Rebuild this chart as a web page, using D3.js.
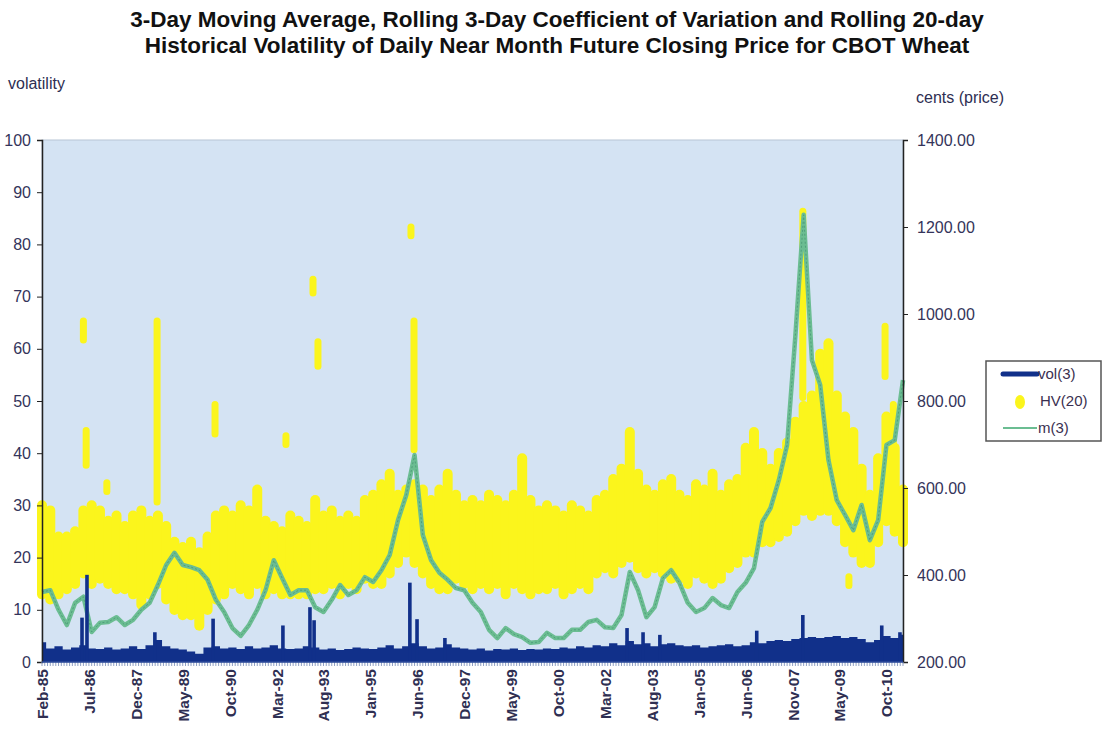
<!DOCTYPE HTML>
<html>
  <head>
    <style>
      body { margin: 0px; background: #ffffff; }
      text { font-family: "Liberation Sans", Arial, sans-serif; }
    </style>
  </head>
  <body>
    <script src="https://cdn.jsdelivr.net/npm/d3@7"></script>
    <script>

      // *** DATA ***

      // x labels, one every 17 periods
      var tickLabels = ["Feb-85","Jul-86","Dec-87","May-89","Oct-90","Mar-92","Aug-93","Jan-95","Jun-96",
                        "Dec-97","May-99","Oct-00","Mar-02","Aug-03","Jan-05","Jun-06","Nov-07","May-09","Oct-10"];
      var labelStep = 17;
      var sampleStep = 3;   // one sample every 3 periods
      var lastPeriod = 312;

      // m(3) - 3 day moving average of price (cents)
      var m3 = [361,365,320,285,336,350,269,290,292,303, 285,297,320,336,377,423,451,423,418,411,
                389,343,315,278,260,285,320,365,434,393, 354,365,365,326,315,343,377,354,365,395,
                384,411,446,526,584,676,492,434,405,389, 370,365,336,315,274,255,278,264,257,244,
                246,267,255,255,274,274,292,297,280,278, 308,407,365,303,326,393,411,382,336,315,
                324,347,331,324,361,382,416,522,554,618, 699,950,1228,894,837,664,572,538,503,561,
                480,526,699,710,848];

      // vol(3) - rolling 3 day coefficient of variation, base level
      var vol3 = [3.8,2.6,3.0,2.4,2.8,3.2,2.6,2.5,2.8,2.4, 2.6,3.0,2.5,3.2,4.2,3.0,2.6,2.4,2.0,1.6,
                  2.8,3.0,2.6,2.8,2.5,3.0,2.6,2.8,3.2,2.6, 2.5,2.6,3.0,2.8,2.4,2.6,2.3,2.5,2.8,2.6,
                  2.5,2.8,3.2,2.6,3.0,3.6,3.0,2.6,2.8,3.4, 2.8,2.6,2.4,2.6,2.2,2.5,2.4,2.6,2.3,2.5,
                  2.4,2.6,2.5,2.8,2.6,3.0,2.8,3.2,3.0,3.6, 3.2,4.0,3.4,3.6,3.0,3.4,3.6,3.2,3.0,3.2,
                  2.8,3.0,3.2,3.4,3.0,3.2,3.8,3.6,4.0,4.2, 4.0,4.4,4.6,4.8,4.6,4.8,5.0,4.6,4.8,4.4,
                  3.8,4.2,5.0,4.6,5.2];
      // vol(3) spikes: [period, value]
      var vol3Spikes = [[14.5,8.5],[16.3,16.7],[40.9,5.7],[62,8.3],[87.3,7],[97.1,10.5],[98.6,8],
                        [133.3,15.2],[135.9,8.2],[146,4.6],[212,6.5],[217.8,5.7],[223.9,5.2],
                        [259,6],[275.7,9],[304.3,7],[310.9,5.7]];

      // HV(20) - rolling 20 day historical volatility, low / high of the band
      var hvLo = [12,11,12,13,14,16,14,15,14,13, 13,12,10,12,14,11,9,8,8,6,
                  9,11,12,14,13,12,14,12,13,12, 12,12,12,13,13,14,12,14,13,15,
                  14,14,16,18,20,18,16,14,13,13, 15,14,13,14,13,14,12,14,13,12,
                  13,13,14,12,13,14,13,16,17,16, 18,19,17,16,17,16,15,15,14,16,
                  15,14,15,17,18,20,20,22,22,23, 24,26,28,27,28,28,26,22,20,18,
                  18,22,26,24,22];
      var hvHi = [31,30,25,25,26,30,31,30,28,29, 27,29,30,28,29,27,24,23,24,22,
                  25,29,30,29,31,30,34,28,27,26, 29,28,27,32,29,30,28,29,28,32,
                  33,35,37,33,34,35,34,32,34,37, 33,31,32,31,33,32,31,33,40,32,
                  30,31,30,29,31,30,29,32,33,36, 38,45,37,34,33,35,36,33,32,35,
                  34,37,33,35,36,42,45,41,38,41, 43,47,50,52,60,62,52,48,45,38,
                  33,40,48,42,34];
      // HV(20) isolated clusters: [period, low, high]
      var hvSpikes = [[15,61,66],[16,37,45],[23.5,32,35],[41.7,30,66],[62.7,43,50],[88.4,41,44],
                      [98.2,70,74],[100,56,62],[133.7,81,84],[134.8,40,66],[275.7,50,87],
                      [292.4,14,17],[305.5,54,65],[308.5,39,50]];

      var legendItems = ["vol(3)", "HV(20)", "m(3)"];

      // *** SCALES ***
      var plot = {left: 42, right: 903, top: 140, bottom: 662};

      var x = d3.scaleLinear().domain([0, lastPeriod]).range([plot.left, plot.right]);
      var yL = d3.scaleLinear().domain([0, 100]).range([plot.bottom, plot.top]);
      var yR = d3.scaleLinear().domain([200, 1400]).range([plot.bottom, plot.top]);

      var svg = d3.select("body").append("svg")
        .attr("width", 1102)
        .attr("height", 729);

      // Title
      var title = svg.append("text")
        .attr("x", 557).attr("text-anchor", "middle")
        .style("font-size", "22.5px").style("font-weight", "bold").style("fill", "#111");
      title.append("tspan").attr("x", 557).attr("y", 27)
        .text("3-Day Moving Average, Rolling 3-Day Coefficient of Variation and Rolling 20-day");
      title.append("tspan").attr("x", 557).attr("y", 53)
        .text("Historical Volatility of Daily Near Month Future Closing Price for CBOT Wheat");

      svg.append("text").attr("x", 8).attr("y", 89)
        .style("font-size", "16px").style("fill", "#2e2e52").text("volatility");
      svg.append("text").attr("x", 916).attr("y", 103)
        .style("font-size", "16px").style("fill", "#2e2e52").text("cents (price)");

      // Plot background
      svg.append("rect")
        .attr("x", plot.left).attr("y", plot.top)
        .attr("width", plot.right - plot.left).attr("height", plot.bottom - plot.top)
        .style("fill", "#d4e3f3").style("stroke", "#b8c6d6");

      // HV(20) band
      var bandW = 10;
      svg.append("g").selectAll("rect").data(hvLo)
        .enter().append("rect")
          .attr("x", function(d, i){ return x(i * sampleStep) - bandW / 2; })
          .attr("y", function(d, i){ return yL(hvHi[i]); })
          .attr("width", bandW)
          .attr("height", function(d, i){ return yL(d) - yL(hvHi[i]); })
          .attr("rx", 5)
          .style("fill", "#fbf51c");

      svg.append("g").selectAll("rect").data(hvSpikes)
        .enter().append("rect")
          .attr("x", function(d){ return x(d[0]) - 3.5; })
          .attr("y", function(d){ return yL(d[2]); })
          .attr("width", 7)
          .attr("height", function(d){ return yL(d[1]) - yL(d[2]); })
          .attr("rx", 3.5)
          .style("fill", "#fbf51c");

      // m(3) line
      var line = d3.line()
        .x(function(d, i){ return x(i * sampleStep); })
        .y(function(d){ return yR(d); });
      svg.append("path").datum(m3)
        .attr("d", line)
        .style("fill", "none")
        .style("stroke", "#6bbd92")
        .style("stroke-width", 4.5)
        .style("stroke-linejoin", "round");
      svg.append("path").datum(m3)
        .attr("d", line)
        .style("fill", "none")
        .style("stroke", "#4f9f7b")
        .style("stroke-width", 1)
        .style("stroke-dasharray", "2,2");

      // vol(3) area
      var area = d3.area()
        .x(function(d, i){ return x(i * sampleStep); })
        .y0(yL(0))
        .y1(function(d){ return yL(d); })
        .curve(d3.curveStep);
      svg.append("path").datum(vol3)
        .attr("d", area)
        .style("fill", "#11308a");

      svg.append("g").selectAll("rect").data(vol3Spikes)
        .enter().append("rect")
          .attr("x", function(d){ return x(d[0]) - 1.8; })
          .attr("y", function(d){ return yL(d[1]); })
          .attr("width", 3.6)
          .attr("height", function(d){ return yL(0) - yL(d[1]); })
          .style("fill", "#11308a");

      // *** AXES ***
      var axisL = svg.append("g")
        .attr("transform", "translate(" + plot.left + ",0)")
        .call(d3.axisLeft(yL).tickValues(d3.range(0, 101, 10)).tickSize(5).tickPadding(6));
      var axisR = svg.append("g")
        .attr("transform", "translate(" + plot.right + ",0)")
        .call(d3.axisRight(yR).tickValues(d3.range(200, 1401, 200)).tickFormat(d3.format(".2f"))
              .tickSize(5).tickPadding(9));
      [axisL, axisR].forEach(function(a){
        a.select(".domain").style("stroke", "#222").style("stroke-width", 1.5);
        a.selectAll(".tick line").style("stroke", "#222");
        a.selectAll(".tick text").style("font-size", "16px").style("fill", "#34345a")
          .style("font-family", "'Liberation Sans', Arial, sans-serif");
      });

      // minor ticks on x axis, one per period
      svg.append("g").selectAll("line").data(d3.range(0, lastPeriod + 1))
        .enter().append("line")
          .attr("x1", function(d){ return x(d); })
          .attr("x2", function(d){ return x(d); })
          .attr("y1", plot.bottom)
          .attr("y2", plot.bottom + 4)
          .style("stroke", "#8e9fc4")
          .style("stroke-width", 1);

      svg.append("line")
        .attr("x1", plot.left).attr("x2", plot.right)
        .attr("y1", plot.bottom).attr("y2", plot.bottom)
        .style("stroke", "#2c4a9a").style("stroke-width", 1.5);

      var axisB = svg.append("g")
        .attr("transform", "translate(0," + plot.bottom + ")")
        .call(d3.axisBottom(x)
          .tickValues(tickLabels.map(function(d, i){ return i * labelStep; }))
          .tickFormat(function(d, i){ return tickLabels[i]; })
          .tickSize(0));
      axisB.select(".domain").remove();
      axisB.selectAll(".tick text")
        .attr("transform", "rotate(-90)")
        .attr("x", -7).attr("y", 0).attr("dy", "0.35em")
        .style("text-anchor", "end")
        .style("font-size", "15.5px").style("font-weight", "bold")
        .style("fill", "#2f2f52")
        .style("font-family", "'Liberation Sans', Arial, sans-serif");

      // *** LEGEND ***
      var lg = svg.append("g").attr("transform", "translate(986,361)");
      lg.append("rect").attr("width", 115).attr("height", 80)
        .style("fill", "#fff").style("stroke", "#555").style("stroke-width", 1.5);
      lg.append("line").attr("x1", 17).attr("x2", 51).attr("y1", 13).attr("y2", 13)
        .style("stroke", "#11308a").style("stroke-width", 5).style("stroke-linecap", "round");
      lg.append("ellipse").attr("cx", 34).attr("cy", 41).attr("rx", 5).attr("ry", 7)
        .style("fill", "#fbf51c");
      lg.append("line").attr("x1", 17).attr("x2", 51).attr("y1", 67).attr("y2", 67)
        .style("stroke", "#6bbd92").style("stroke-width", 2);
      lg.selectAll("text.lab").data(legendItems)
        .enter().append("text")
          .attr("class", "lab")
          .attr("x", function(d, i){ return i === 1 ? 54 : 52; })
          .attr("y", function(d, i){ return 18 + i * 27; })
          .style("font-size", "15px").style("fill", "#3a3050")
          .text(function(d){ return d; });

    </script>
  </body>
</html>
